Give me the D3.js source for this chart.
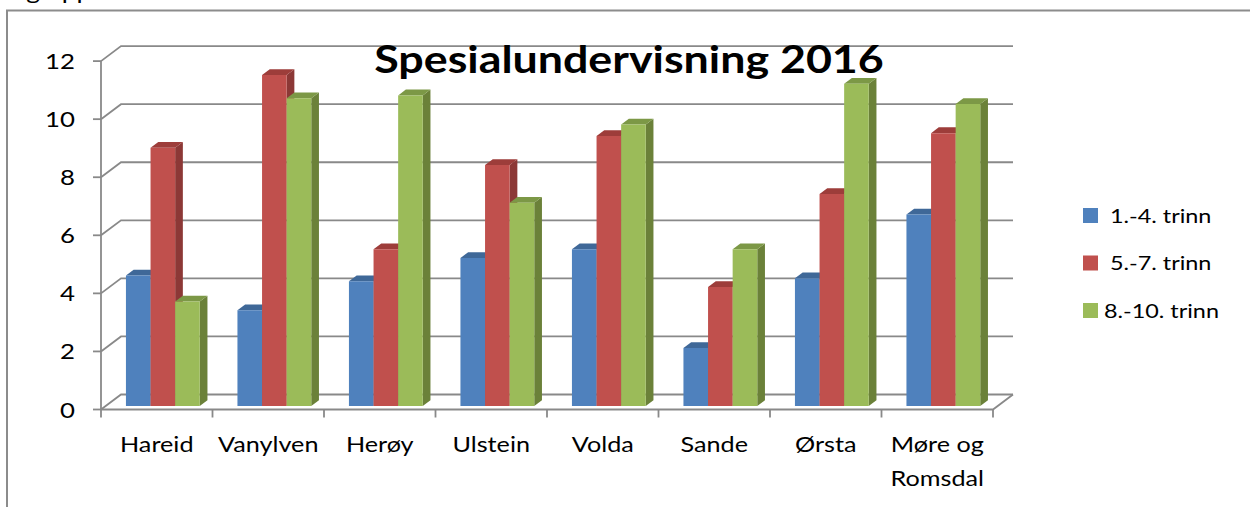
<!DOCTYPE html>
<html>
<head>
<meta charset="utf-8">
<script src="https://cdn.jsdelivr.net/npm/d3@7"></script>
<style>
  body { margin: 0; background: #fff; }
  text { font-family: Lato, "Open Sans", sans-serif; fill: #000; }
</style>
</head>
<body>
<div id="chart"></div>
<script>
// data
var categories = ["Hareid", "Vanylven", "Herøy", "Ulstein", "Volda", "Sande", "Ørsta", "Møre og Romsdal"];
var seriesNames = [" 1.-4. trinn", " 5.-7. trinn", "8.-10. trinn"];
var trinn1_4 = [4.5, 3.3, 4.3, 5.1, 5.4, 2.0, 4.4, 6.6];
var trinn5_7 = [8.9, 11.4, 5.4, 8.3, 9.3, 4.1, 7.3, 9.4];
var trinn8_10 = [3.6, 10.6, 10.7, 7.0, 9.7, 5.4, 11.1, 10.4];
var yTicks = [0, 2, 4, 6, 8, 10, 12];
var chartTitle = "Spesialundervisning 2016";

(function() {
  var width = 1250, height = 507;
  var sx = 1.2; // the source picture is stretched sideways

  var svg = d3.select("#chart")
    .append("svg")
    .attr("width", width)
    .attr("height", height);

  var series = [trinn1_4, trinn5_7, trinn8_10];
  var colors = [
    { front: "#4f81bd", side: "#385e8c", top: "#3f6898" },
    { front: "#c0504d", side: "#8c3836", top: "#9d3d3a" },
    { front: "#9bbb59", side: "#6b8139", top: "#7c9846" }
  ];

  var x0 = d3.scaleBand().domain(categories).range([101, 993]);
  var groupW = x0.bandwidth() * 0.662;
  var x1 = d3.scaleBand().domain(d3.range(series.length)).range([0, groupW]);
  var y = d3.scaleLinear().domain([0, 12]).range([409.5, 61.1]);

  // depth of the 3d box
  var dx = 20, dy = -15;
  var zFront = 0.23, zBack = 0.615;
  function pt(x, v, z) { return [x + z * dx, y(v) + z * dy]; }
  function poly(points) { return "M" + points.map(function(p) { return p.join(","); }).join("L") + "Z"; }

  var grid = svg.append("g").attr("fill", "none").attr("stroke", "#898989").attr("stroke-width", 1.8);

  // walls + gridlines
  yTicks.forEach(function(t) {
    var line = d3.line();
    grid.append("path").attr("d", line([pt(101, t, 0), pt(101, t, 1), pt(993, t, 1)]));
    grid.append("line")
      .attr("x1", 93).attr("x2", 101)
      .attr("y1", y(t)).attr("y2", y(t));
  });
  // floor
  grid.append("path").attr("d", d3.line()([pt(101, 0, 0), pt(993, 0, 0), pt(993, 0, 1)]));
  // value axis
  grid.append("line").attr("x1", 101).attr("x2", 101).attr("y1", y(0)).attr("y2", y(12));
  // category ticks
  categories.concat([null]).forEach(function(c, i) {
    var xx = c ? x0(c) : x0.range()[1];
    grid.append("line").attr("x1", xx).attr("x2", xx).attr("y1", y(0)).attr("y2", y(0) + 8);
  });

  // bars
  var bars = svg.append("g");
  categories.forEach(function(c, i) {
    var gx = x0(c) + (x0.bandwidth() - groupW) / 2 + 1.5;
    series.forEach(function(s, k) {
      var v = s[i];
      var a = gx + x1(k), b = a + x1.bandwidth();
      var col = colors[k];
      // side
      bars.append("path")
        .attr("d", poly([pt(b, 0, zFront), pt(b, 0, zBack), pt(b, v, zBack), pt(b, v, zFront)]))
        .attr("fill", col.side);
      // top
      bars.append("path")
        .attr("d", poly([pt(a, v, zFront), pt(b, v, zFront), pt(b, v, zBack), pt(a, v, zBack)]))
        .attr("fill", col.top);
      // front
      bars.append("path")
        .attr("d", poly([pt(a, 0, zFront), pt(b, 0, zFront), pt(b, v, zFront), pt(a, v, zFront)]))
        .attr("fill", col.front);
    });
  });

  function label(g, x, yy, str, size, anchor, weight) {
    return g.append("text")
      .attr("transform", "translate(" + x + "," + yy + ") scale(" + sx + ",1)")
      .attr("text-anchor", anchor)
      .attr("font-size", size)
      .attr("font-weight", weight || "normal")
      .style("white-space", "pre")
      .text(str);
  }

  var texts = svg.append("g");

  // y tick labels
  yTicks.forEach(function(t) {
    label(texts, 75, y(t) + 8, String(t), 21.5, "end");
  });

  // category labels, wrapped to fit
  categories.forEach(function(c) {
    var cx = x0(c) + x0.bandwidth() / 2;
    var words = c.split(" "), lines = [], cur = "";
    words.forEach(function(w) {
      var test = cur ? cur + " " + w : w;
      if (test.length > 9 && cur) { lines.push(cur); cur = w; } else { cur = test; }
    });
    lines.push(cur);
    lines.forEach(function(l, j) {
      label(texts, cx, 452 + j * 34, l, 21, "middle");
    });
  });

  // title
  label(texts, 629, 73, chartTitle, 37.3, "middle", "bold");

  // legend
  seriesNames.forEach(function(n, k) {
    var ly = 208 + k * 47.5;
    svg.append("rect")
      .attr("x", 1083).attr("y", ly)
      .attr("width", 15).attr("height", 15)
      .attr("fill", colors[k].front);
    label(texts, 1104, ly + 14.5, n, 19.5, "start");
  });

  // chart frame (cut off at right and bottom)
  svg.append("path")
    .attr("d", "M7," + height + "V10.5H" + width)
    .attr("fill", "none")
    .attr("stroke", "#8c8c8c")
    .attr("stroke-width", 2);

  // cut-off line of text above the frame
  label(texts, 20, -1.5, "ıg opp", 22, "start");
})();
</script>
</body>
</html>
